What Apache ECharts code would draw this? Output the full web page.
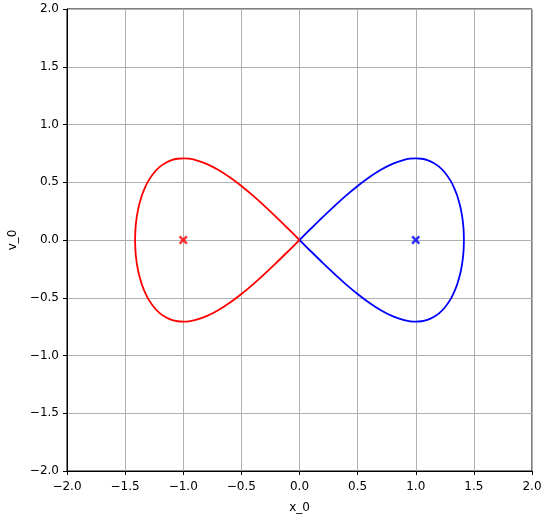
<!DOCTYPE html>
<html>
<head>
<meta charset="utf-8">
<script src="https://cdn.jsdelivr.net/npm/echarts@6/dist/echarts.min.js"></script>
<style>html,body{margin:0;padding:0;background:#fff;}#c{width:546px;height:518px;}</style>
</head>
<body>
<div id="c"></div>
<script>
// Upper half of the right lobe (x, v)
var lobeX = [0, 0.1, 0.2, 0.3, 0.4, 0.5, 0.6, 0.7, 0.8, 0.9, 0.95, 1.0, 1.05, 1.1, 1.15, 1.2, 1.25, 1.3, 1.33, 1.35, 1.36, 1.38, 1.39, 1.40, 1.405, 1.41, 1.412, 1.4142];
var lobeV = [0, 0.0997, 0.198, 0.2932, 0.3837, 0.4677, 0.5433, 0.6082, 0.6597, 0.6942, 0.7037, 0.7071, 0.7034, 0.6913, 0.6693, 0.635, 0.5846, 0.5118, 0.4521, 0.4022, 0.373, 0.3017, 0.2561, 0.198, 0.1601, 0.1088, 0.079, 0];
var centers = [[-1, 0], [1, 0]];
var tickLabels = ['-2.0', '-1.5', '-1.0', '-0.5', '0.0', '0.5', '1.0', '1.5', '2.0'];

function loop(sign) {
  var pts = [];
  for (var i = 0; i < lobeX.length; i++) pts.push([sign * lobeX[i], lobeV[i]]);
  for (var j = lobeX.length - 2; j >= 0; j--) pts.push([sign * lobeX[j], -lobeV[j]]);
  return pts;
}
var fmt = function (v) { return v.toFixed(1).replace('-', '\u2212'); };
var xSym = 'path://M0,2 L2,0 L5,3 L8,0 L10,2 L7,5 L10,8 L8,10 L5,7 L2,10 L0,8 L3,5 Z';
var font = 'DejaVu Sans';
function axis(name, gap, margin) {
  return {
    type: 'value', min: -2, max: 2, interval: 0.5,
    name: name, nameLocation: 'middle', nameGap: gap,
    nameTextStyle: { color: '#000', fontSize: 12, fontFamily: font },
    axisLine: { onZero: false, lineStyle: { color: '#000', width: 1 } },
    axisTick: { inside: false, length: 4, lineStyle: { color: '#000' } },
    axisLabel: { color: '#000', fontSize: 12, fontFamily: font, margin: margin, formatter: fmt },
    splitLine: { show: true, lineStyle: { color: '#b0b0b0', width: 1 } }
  };
}
var chart = echarts.init(document.getElementById('c'));
chart.setOption({
  animation: false,
  grid: { left: 67, right: 14, top: 9, bottom: 47, outerBoundsMode: 'none', containLabel: false, show: true, borderColor: '#000', borderWidth: 1, backgroundColor: 'transparent' },
  xAxis: axis('x_0', 31, 10),
  yAxis: axis('v_0', 48, 8),
  series: [
    { type: 'line', data: loop(1), smooth: 0.3, showSymbol: false, lineStyle: { color: '#0000ff', width: 1.8 }, z: 3 },
    { type: 'line', data: loop(-1), smooth: 0.3, showSymbol: false, lineStyle: { color: '#ff0000', width: 1.8 }, z: 3 },
    { type: 'scatter', data: [centers[1]], symbol: xSym, symbolSize: 9, itemStyle: { color: '#0000ff' }, z: 4 },
    { type: 'scatter', data: [centers[0]], symbol: xSym, symbolSize: 9, itemStyle: { color: '#ff0000' }, z: 4 }
  ]
});
</script>
</body>
</html>
